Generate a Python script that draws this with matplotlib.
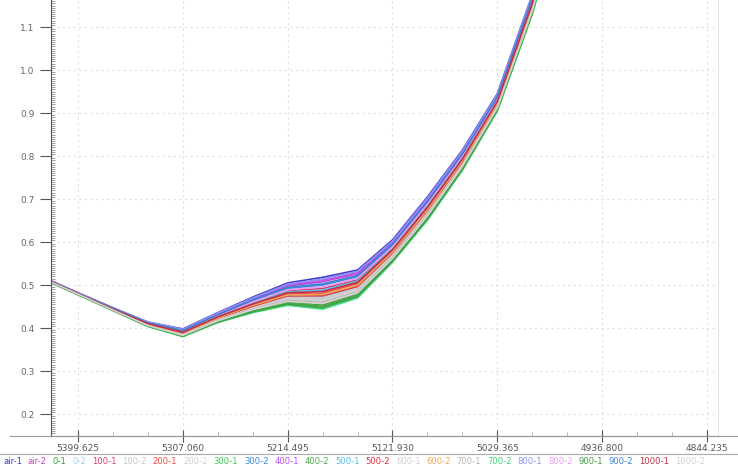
import matplotlib
matplotlib.use("Agg")
import matplotlib.pyplot as plt
from matplotlib.ticker import MultipleLocator, FixedLocator
from matplotlib.lines import Line2D

# wavenumber axis (cm-1), one point every ~30.855
wavenumber = [5430.480, 5399.625, 5368.770, 5337.915, 5307.060, 5276.205, 5245.350, 5214.495,
              5183.640, 5152.785, 5121.930, 5091.075, 5060.220, 5029.365, 4998.510, 4967.655]

x_ticks = [5399.625, 5307.060, 5214.495, 5121.930, 5029.365, 4936.800, 4844.235]
y_ticks = [0.2, 0.3, 0.4, 0.5, 0.6, 0.7, 0.8, 0.9, 1.0, 1.1]

# absorbance per sample
air_1  = [0.518, 0.482, 0.447, 0.414, 0.398, 0.436, 0.472, 0.505, 0.518, 0.535, 0.605, 0.705, 0.814, 0.945, 1.175, 1.470]
air_2  = [0.517, 0.481, 0.446, 0.413, 0.395, 0.433, 0.467, 0.498, 0.508, 0.526, 0.598, 0.697, 0.807, 0.939, 1.169, 1.463]
s0_1   = [0.515, 0.479, 0.442, 0.405, 0.383, 0.416, 0.441, 0.460, 0.454, 0.479, 0.560, 0.659, 0.774, 0.911, 1.136, 1.427]
s0_2   = [0.516, 0.480, 0.443, 0.408, 0.387, 0.422, 0.450, 0.473, 0.472, 0.495, 0.573, 0.671, 0.785, 0.920, 1.147, 1.439]
s100_1 = [0.517, 0.481, 0.445, 0.411, 0.392, 0.428, 0.459, 0.487, 0.492, 0.512, 0.587, 0.686, 0.798, 0.931, 1.159, 1.453]
s100_2 = [0.515, 0.479, 0.443, 0.407, 0.386, 0.421, 0.448, 0.471, 0.469, 0.492, 0.571, 0.669, 0.783, 0.919, 1.145, 1.437]
s200_1 = [0.516, 0.480, 0.444, 0.409, 0.389, 0.425, 0.454, 0.479, 0.481, 0.503, 0.579, 0.678, 0.791, 0.925, 1.153, 1.445]
s200_2 = [0.515, 0.479, 0.443, 0.407, 0.385, 0.420, 0.447, 0.469, 0.466, 0.490, 0.569, 0.667, 0.781, 0.917, 1.144, 1.435]
s300_1 = [0.514, 0.478, 0.441, 0.404, 0.381, 0.414, 0.437, 0.455, 0.446, 0.472, 0.555, 0.653, 0.768, 0.906, 1.131, 1.422]
s300_2 = [0.517, 0.481, 0.446, 0.412, 0.394, 0.430, 0.463, 0.492, 0.500, 0.519, 0.592, 0.692, 0.802, 0.935, 1.164, 1.458]
s400_1 = [0.518, 0.482, 0.446, 0.413, 0.396, 0.434, 0.468, 0.500, 0.511, 0.529, 0.600, 0.700, 0.809, 0.941, 1.171, 1.465]
s400_2 = [0.514, 0.478, 0.442, 0.405, 0.382, 0.415, 0.440, 0.458, 0.451, 0.477, 0.558, 0.656, 0.772, 0.909, 1.135, 1.425]
s500_1 = [0.516, 0.480, 0.445, 0.410, 0.391, 0.427, 0.458, 0.484, 0.488, 0.509, 0.584, 0.683, 0.795, 0.929, 1.157, 1.450]
s500_2 = [0.516, 0.480, 0.444, 0.408, 0.388, 0.423, 0.451, 0.475, 0.475, 0.497, 0.575, 0.674, 0.787, 0.922, 1.149, 1.441]
s600_1 = [0.515, 0.479, 0.443, 0.407, 0.385, 0.419, 0.445, 0.467, 0.463, 0.487, 0.567, 0.665, 0.779, 0.915, 1.142, 1.433]
s600_2 = [0.516, 0.480, 0.444, 0.409, 0.388, 0.424, 0.453, 0.477, 0.478, 0.500, 0.577, 0.676, 0.789, 0.923, 1.151, 1.443]
s700_1 = [0.515, 0.479, 0.442, 0.406, 0.384, 0.418, 0.444, 0.464, 0.460, 0.484, 0.564, 0.663, 0.777, 0.914, 1.140, 1.431]
s700_2 = [0.514, 0.478, 0.441, 0.404, 0.380, 0.413, 0.436, 0.453, 0.444, 0.470, 0.553, 0.651, 0.767, 0.905, 1.130, 1.420]
s800_1 = [0.518, 0.482, 0.447, 0.414, 0.397, 0.435, 0.470, 0.502, 0.514, 0.532, 0.602, 0.702, 0.812, 0.943, 1.173, 1.468]
s800_2 = [0.517, 0.481, 0.445, 0.411, 0.393, 0.429, 0.461, 0.489, 0.496, 0.516, 0.589, 0.689, 0.800, 0.933, 1.162, 1.455]
s900_1 = [0.514, 0.478, 0.441, 0.405, 0.381, 0.414, 0.438, 0.456, 0.448, 0.474, 0.556, 0.654, 0.770, 0.907, 1.133, 1.423]
s900_2 = [0.517, 0.481, 0.446, 0.412, 0.394, 0.431, 0.465, 0.495, 0.503, 0.522, 0.595, 0.694, 0.805, 0.937, 1.166, 1.460]
s1000_1 = [0.516, 0.480, 0.444, 0.410, 0.390, 0.426, 0.456, 0.482, 0.485, 0.506, 0.582, 0.681, 0.793, 0.927, 1.155, 1.448]
s1000_2 = [0.515, 0.479, 0.442, 0.406, 0.383, 0.417, 0.443, 0.462, 0.457, 0.482, 0.562, 0.661, 0.776, 0.912, 1.138, 1.429]

labels = ["air-1", "air-2", "0-1", "0-2", "100-1", "100-2", "200-1", "200-2", "300-1", "300-2",
          "400-1", "400-2", "500-1", "500-2", "600-1", "600-2", "700-1", "700-2", "800-1", "800-2",
          "900-1", "900-2", "1000-1", "1000-2"]
series = [air_1, air_2, s0_1, s0_2, s100_1, s100_2, s200_1, s200_2, s300_1, s300_2,
          s400_1, s400_2, s500_1, s500_2, s600_1, s600_2, s700_1, s700_2, s800_1, s800_2,
          s900_1, s900_2, s1000_1, s1000_2]
colors = ["#3b3bd0", "#c040d0", "#30a030", "#a8d0f0", "#d04070", "#c8c8c8", "#f04848", "#d0d0d0",
          "#30d050", "#3a8ae0", "#c050f0", "#50a850", "#50c0f0", "#e03040", "#d0d0d0", "#f0a860",
          "#b8b8b8", "#40d880", "#9090f0", "#e8a0f0", "#40a040", "#4080d0", "#c03040", "#d8d0d0"]

W, H = 738, 469
fig = plt.figure(figsize=(W / 100, H / 100), dpi=100)
ax = fig.add_axes([51 / W, 1 - 436 / H, (718 - 51) / W, 436 / H])

for lab, vals, c in zip(labels, series, colors):
    ax.plot(wavenumber, vals, color=c, lw=1.2, label=lab)

ax.set_xlim(5423.47, 4834.5)
ax.set_ylim(0.149, 1.163)

ax.xaxis.set_major_locator(FixedLocator(x_ticks))
ax.set_xticklabels([f"{v:.3f}" for v in x_ticks])
ax.xaxis.set_minor_locator(MultipleLocator(30.855))
ax.set_yticks(y_ticks)
ax.set_yticklabels([f"{v:.1f}" for v in y_ticks])
ax.yaxis.set_minor_locator(MultipleLocator(0.005))

ax.tick_params(axis="y", which="major", direction="out", length=8, width=0.8,
               color="#555555", labelsize=6.5, labelcolor="#666666", pad=4)
ax.tick_params(axis="y", which="minor", direction="in", length=3, width=0.5, color="#777777")
ax.tick_params(axis="x", which="major", direction="inout", length=8, width=0.8,
               color="#555555", labelsize=6.5, labelcolor="#555555", pad=2)
ax.tick_params(axis="x", which="minor", direction="in", length=3, width=0.5, color="#999999")

ax.grid(True, which="major", color="#e0e0e0", lw=0.8, linestyle=(0, (2, 3)))
ax.spines["top"].set_visible(False)
ax.spines["right"].set_color("#e4e4e4")
ax.spines["left"].set_color("#555555")
ax.spines["bottom"].set_color("#888888")

# extended axis rule and separator above the legend row
fig.add_artist(Line2D([10 / W, 1], [1 - 436 / H, 1 - 436 / H], color="#999999", lw=0.8))
fig.add_artist(Line2D([0, 1], [1 - 454 / H, 1 - 454 / H], color="#aaaaaa", lw=0.8))

fig.legend(loc="center left", bbox_to_anchor=(3 / W, 1 - 461 / H), ncol=len(labels),
           frameon=False, handlelength=0, handletextpad=0, columnspacing=0.68,
           fontsize=6.1, labelcolor="linecolor", borderaxespad=0, borderpad=0)

fig.savefig("out.png", dpi=100)
